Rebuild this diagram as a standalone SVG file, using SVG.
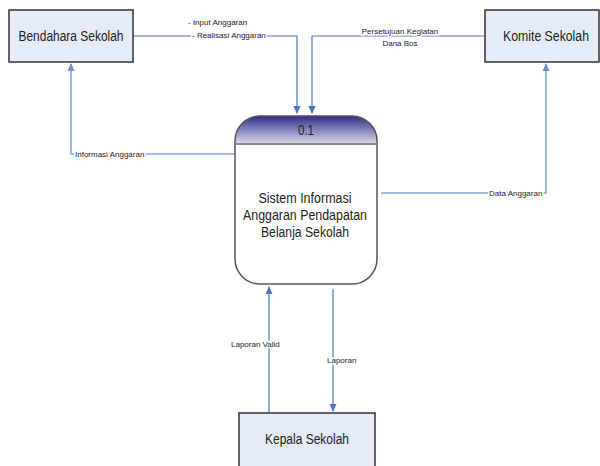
<svg xmlns="http://www.w3.org/2000/svg" width="600" height="466" viewBox="0 0 600 466">
<style>
.box{fill:#e6ecf7;stroke:#333;stroke-width:1.5}
.nt{font-family:"Liberation Sans",Arial,sans-serif;font-size:14px;fill:#222;text-anchor:middle}
.ln{fill:none;stroke:#4a74c0;stroke-width:1.2}
.ln2{fill:none;stroke:#86a6dc;stroke-width:1.6}
.lb{font-family:"Liberation Sans",Arial,sans-serif;font-size:8px;fill:#222;paint-order:stroke;stroke:#fff;stroke-width:3px}
</style>
<defs>
<marker id="ah" markerWidth="8" markerHeight="8" refX="7" refY="4" orient="auto" markerUnits="userSpaceOnUse">
<path d="M0,0.5 L8,4 L0,7.5 Z" fill="#4a74c0"/>
</marker>
<marker id="ah2" markerWidth="8" markerHeight="8" refX="7" refY="4" orient="auto" markerUnits="userSpaceOnUse">
<path d="M0,0.5 L8,4 L0,7.5 Z" fill="#6e90d0"/>
</marker>
<linearGradient id="hg" x1="0" y1="0" x2="0" y2="1">
<stop offset="0" stop-color="#2e2e86"/>
<stop offset="1" stop-color="#dcdcf0"/>
</linearGradient>
</defs>
<g id="connectors">
<path class="ln" d="M133,36 H297 V113" marker-end="url(#ah)"/>
<path class="ln" d="M485,36 H312 V113" marker-end="url(#ah)"/>
<path class="ln2" d="M235,154 H71 V64" marker-end="url(#ah2)"/>
<path class="ln2" d="M381,193 H546 V64" marker-end="url(#ah2)"/>
<path class="ln" d="M269,412 V287" marker-end="url(#ah)"/>
<path class="ln" d="M333,289 V411" marker-end="url(#ah)"/>
<text class="lb" x="188" y="25">- Input Anggaran</text>
<text class="lb" x="192" y="38">- Realisasi Anggaran</text>
<text class="lb" x="400" y="34" text-anchor="middle">Persetujuan Kegiatan</text>
<text class="lb" x="400" y="46" text-anchor="middle">Dana Bos</text>
<text class="lb" x="75" y="157">Informasi Anggaran</text>
<text class="lb" x="489" y="196">Data Anggaran</text>
<text class="lb" x="231" y="347">Laporan Valid</text>
<text class="lb" x="327" y="363">Laporan</text>
</g>
<g id="bendahara">
<rect class="box" x="9" y="10" width="124" height="52"/>
<text class="nt" x="71" y="41" textLength="105" lengthAdjust="spacingAndGlyphs">Bendahara Sekolah</text>
</g>
<g id="komite">
<rect class="box" x="485" y="10" width="114" height="52"/>
<text class="nt" x="546" y="41" textLength="86" lengthAdjust="spacingAndGlyphs">Komite Sekolah</text>
</g>
<g id="process">
<path d="M235,144 V141 A25,25 0 0 1 260,116 H352 A25,25 0 0 1 377,141 V144 Z" fill="url(#hg)"/>
<path d="M235,144 H377 V259 A25,25 0 0 1 352,284 H260 A25,25 0 0 1 235,259 Z" fill="#fff"/>
<path d="M260,116 H352 A25,25 0 0 1 377,141 V259 A25,25 0 0 1 352,284 H260 A25,25 0 0 1 235,259 V141 A25,25 0 0 1 260,116 Z" fill="none" stroke="#555" stroke-width="1.5"/>
<line x1="235" y1="144" x2="377" y2="144" stroke="#888" stroke-width="2"/>
<text class="nt" x="306" y="135" textLength="16" lengthAdjust="spacingAndGlyphs">0.1</text>
<text class="nt" x="305" y="203" textLength="93" lengthAdjust="spacingAndGlyphs">Sistem Informasi</text>
<text class="nt" x="305" y="220" textLength="124" lengthAdjust="spacingAndGlyphs">Anggaran Pendapatan</text>
<text class="nt" x="305" y="237" textLength="88" lengthAdjust="spacingAndGlyphs">Belanja Sekolah</text>
</g>
<g id="kepala">
<rect class="box" x="239" y="413" width="136" height="60"/>
<text class="nt" x="307" y="444" textLength="84" lengthAdjust="spacingAndGlyphs">Kepala Sekolah</text>
</g>
</svg>
